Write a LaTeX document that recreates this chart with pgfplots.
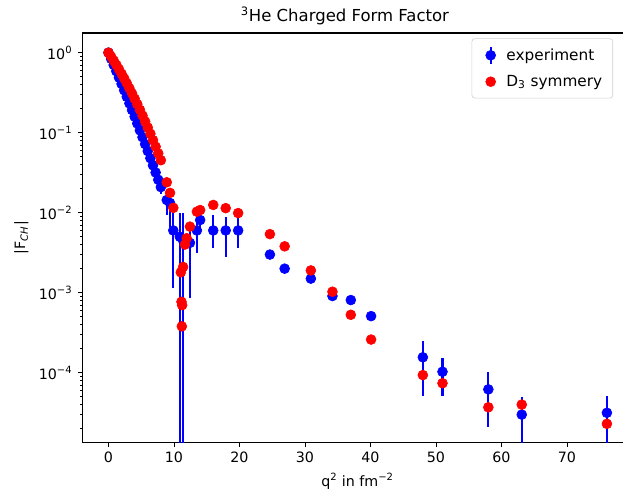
\documentclass[border=0pt]{standalone}
\usepackage{fontspec}
\setmainfont{DejaVu Sans}
\usepackage{pgfplots}
\pgfplotsset{compat=1.18}
\usepackage{pgfplotstable}
\usetikzlibrary{calc}

\definecolor{expblue}{RGB}{0,0,255}
\definecolor{d3red}{RGB}{255,0,0}

% experiment: q^2, |F|, error plus, error minus
\pgfplotstableread{
q2 F ep em
0.0 1.000 0.030 0.030
0.4 0.839 0.025 0.025
0.8 0.702 0.021 0.021
1.2 0.587 0.018 0.018
1.6 0.489 0.015 0.015
2.0 0.407 0.012 0.012
2.4 0.339 0.010 0.010
2.8 0.281 0.008 0.008
3.2 0.2325 0.007 0.007
3.6 0.192 0.006 0.006
4.0 0.1585 0.005 0.005
4.4 0.1305 0.004 0.004
4.8 0.107 0.0032 0.0032
5.2 0.0880 0.0026 0.0026
5.6 0.0720 0.0022 0.0022
6.0 0.0589 0.0059 0.0059
6.4 0.0480 0.0048 0.0048
6.8 0.0391 0.0039 0.0039
7.2 0.0318 0.0032 0.0032
7.6 0.0258 0.0030 0.0030
8.0 0.0209 0.0040 0.0040
8.9 0.0144 0.0045 0.0050
9.4 0.0132 0.0040 0.0066
9.9 0.0060 0.0039 0.00485
10.9 0.0050 0.0049 0.0049999
11.4 0.0045 0.0054 0.0044999
12.44 0.0042 0.0024 0.00335
13.5 0.0060 0.0048 0.0029
14.0 0.0081 0.0025 0.0026
16.0 0.0060 0.0034 0.0024
17.9 0.0060 0.0028 0.0032
19.8 0.0060 0.0028 0.0024
24.65 0.0030 0.0002 0.0002
26.9 0.0020 0.00015 0.00015
30.9 0.0015 0.0001 0.0001
34.2 0.00091 0.00006 0.00006
37.0 0.00081 0.00006 0.00006
40.1 0.00051 0.00004 0.00004
48.0 0.000156 0.000095 0.000105
51.0 0.000103 0.000048 0.000052
58.0 0.000062 0.000041 0.000041
63.1 0.000030 0.000020 0.0000299
76.1 0.0000316 0.0000195 0.0000315
}\expdata

% D3 symmetry calculation
\pgfplotstableread{
q2 F
0.0 1.000
0.4 0.893
0.8 0.795
1.2 0.704
1.6 0.620
2.0 0.545
2.4 0.476
2.8 0.414
3.2 0.3586
3.6 0.309
4.0 0.2655
4.4 0.2270
4.8 0.193
5.2 0.1636
5.6 0.1379
6.0 0.116
6.4 0.0969
6.8 0.0806
7.2 0.0668
7.6 0.0551
8.0 0.0453
8.9 0.0240
9.4 0.0177
9.9 0.0115
11.05 0.0018
11.15 0.00077
11.2 0.00038
11.25 0.00070
11.4 0.0021
11.68 0.0040
11.94 0.0048
12.44 0.0067
13.5 0.0103
14.0 0.0108
16.0 0.0125
17.9 0.0114
19.8 0.0099
24.65 0.0054
26.9 0.0038
30.9 0.0019
34.2 0.00103
37.0 0.00053
40.1 0.00026
48.0 0.0000935
51.0 0.000074
58.0 0.000037
63.1 0.000040
76.1 0.000023
}\thdata

\begin{document}
\begin{tikzpicture}
\begin{axis}[
    scale only axis,
    width=366.5pt, height=272.7pt,
    ymode=log,
    xmin=-3.94, xmax=80,
    ymin=1.36e-5, ymax=1.76,
    xtick={0,10,20,30,40,50,60,70},
    ytick={1,0.1,0.01,0.001,0.0001},
    yticklabels={10\textsuperscript{0},10\textsuperscript{−1},10\textsuperscript{−2},10\textsuperscript{−3},10\textsuperscript{−4}},
    minor ytick={2e-5,3e-5,4e-5,5e-5,6e-5,7e-5,8e-5,9e-5,
                 2e-4,3e-4,4e-4,5e-4,6e-4,7e-4,8e-4,9e-4,
                 2e-3,3e-3,4e-3,5e-3,6e-3,7e-3,8e-3,9e-3,
                 0.02,0.03,0.04,0.05,0.06,0.07,0.08,0.09,
                 0.2,0.3,0.4,0.5,0.6,0.7,0.8,0.9},
    /pgf/number format/assume math mode=true,
    tick align=outside,
    tick pos=left,
    major tick length=3.3pt,
    minor tick length=1.9pt,
    every tick/.style={black, line width=0.55pt},
    axis line style={line width=0.7pt},
    tick label style={font=\fontsize{9.5}{11}\selectfont},
    label style={font=\fontsize{9.5}{11}\selectfont},
    xlabel={q\textsuperscript{2} in fm\textsuperscript{−2}},
    ylabel={|F\textsubscript{\textit{CH}}|},
    title={\textsuperscript{3}He Charged Form Factor},
    title style={font=\fontsize{11}{13}\selectfont, at={(0.477,1)}, anchor=base, yshift=2pt},
    legend style={at={(0.7075,0.987)}, anchor=north west, draw=black!18,
        rounded corners=2pt, font=\fontsize{10.2}{12}\selectfont,
        row sep=4.5pt, inner xsep=5pt, inner ysep=4.5pt},
    legend cell align=left,
]
\addplot[only marks, mark=*, mark size=3.3pt, color=expblue,
    legend image code/.code={
        \path[draw=none, fill=none] (0pt,-5pt) rectangle (16pt,5pt);
        \draw[expblue, line width=1.4pt] (7.5pt,-5.5pt) -- (7.5pt,5.5pt);
        \fill[expblue] (7.5pt,0pt) circle (3.3pt);},
    error bars/.cd, y dir=both, y explicit, error mark=none,
    error bar style={line width=1.4pt, expblue}]
    table[x=q2, y=F, y error plus=ep, y error minus=em] {\expdata};
\addlegendentry{experiment}
\addplot[only marks, mark=*, mark size=3.3pt, color=d3red,
    legend image code/.code={
        \path[draw=none, fill=none] (0pt,-5pt) rectangle (16pt,5pt);
        \fill[d3red] (7.5pt,0pt) circle (3.3pt);}]
    table[x=q2, y=F] {\thdata};
\addlegendentry{D\textsubscript{3} symmery}
\end{axis}
\pgfresetboundingbox
\path ($(current axis.south west)+(-55.1pt,-35.3pt)$) rectangle ($(current axis.south west)+(360.2pt,294.7pt)$);
\end{tikzpicture}
\end{document}
